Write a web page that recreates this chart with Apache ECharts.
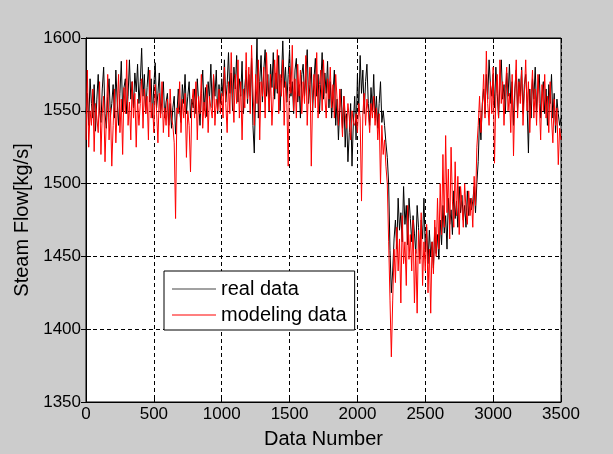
<!DOCTYPE html>
<html>
<head>
<meta charset="utf-8">
<script src="https://cdn.jsdelivr.net/npm/echarts@6/dist/echarts.min.js"></script>
<style>
html,body{margin:0;padding:0;background:#cccccc;}
#chart{width:613px;height:454px;}
</style>
</head>
<body>
<div id="chart"></div>
<script>
// Data Number step between consecutive samples
var sampleStep = 10;
var xTicks = [0, 500, 1000, 1500, 2000, 2500, 3000, 3500];
var yTicks = [1350, 1400, 1450, 1500, 1550, 1600];
var seriesNames = ['real data', 'modeling data'];

var realData = [
1548,1562,1540,1572,1555,1545,1568,1536,1558,1575,1550,1542,1565,1580,1548,1538,1560,1572,1546,1555,
1568,1545,1578,1556,1540,1562,1584,1550,1566,1572,1548,1560,1585,1558,1570,1552,1576,1563,1582,1555,
1570,1593,1560,1575,1548,1566,1580,1556,1572,1545,1568,1583,1552,1562,1576,1548,1558,1570,1545,1556,
1562,1540,1555,1538,1552,1560,1534,1548,1565,1550,1542,1568,1555,1575,1548,1560,1570,1545,1558,1552,
1565,1548,1572,1556,1540,1562,1578,1550,1566,1546,1570,1558,1582,1552,1574,1560,1578,1548,1568,1555,
1572,1560,1585,1556,1568,1590,1562,1576,1550,1580,1565,1588,1556,1572,1560,1584,1548,1566,1578,1555,
1575,1560,1586,1540,1521,1565,1600,1545,1570,1588,1556,1578,1592,1560,1575,1550,1582,1566,1590,1558,
1576,1562,1588,1550,1572,1598,1566,1580,1556,1575,1592,1560,1570,1548,1578,1586,1556,1568,1545,1575,
1582,1560,1574,1592,1555,1568,1580,1550,1572,1586,1560,1575,1548,1568,1590,1558,1576,1562,1584,1552,
1570,1545,1562,1578,1540,1558,1530,1552,1565,1538,1560,1525,1548,1515,1535,1555,1512,1542,1560,1530,
1575,1550,1588,1562,1578,1548,1570,1582,1555,1540,1566,1550,1575,1545,1560,1538,1555,1570,1542,1550,
1540,1528,1518,1500,1454,1425,1440,1462,1475,1455,1490,1468,1480,1460,1498,1472,1485,1458,1490,1476,
1460,1478,1466,1452,1485,1470,1448,1475,1462,1490,1455,1470,1445,1468,1450,1460,1442,1470,1452,1465,
1448,1475,1458,1485,1466,1478,1455,1490,1472,1482,1465,1495,1476,1488,1470,1498,1480,1492,1475,1485,
1470,1495,1478,1490,1482,1488,1498,1480,1500,1515,1545,1530,1555,1565,1548,1575,1558,1585,1568,1560,
1575,1552,1580,1562,1545,1570,1585,1558,1568,1548,1576,1560,1582,1555,1570,1540,1565,1578,1550,1572,
1560,1580,1548,1568,1575,1555,1521,1565,1545,1572,1558,1580,1550,1566,1575,1545,1562,1570,1548,1565,
1540,1568,1555,1575,1545,1562,1535,1558,1548,1540,1545
];

var modelData = [
1530,1578,1525,1550,1540,1565,1522,1555,1545,1535,1570,1520,1548,1560,1515,1545,1575,1530,1552,1512,
1540,1565,1528,1552,1575,1535,1558,1520,1566,1548,1585,1540,1556,1530,1570,1545,1562,1525,1558,1540,
1555,1572,1538,1565,1548,1560,1530,1578,1545,1555,1535,1568,1550,1528,1562,1545,1570,1535,1552,1540,
1558,1532,1565,1545,1540,1528,1476,1552,1548,1570,1535,1558,1545,1562,1518,1550,1540,1508,1555,1565,
1545,1570,1530,1560,1548,1575,1538,1556,1545,1568,1535,1560,1552,1545,1575,1540,1558,1550,1565,1548,
1562,1545,1580,1555,1535,1570,1548,1590,1560,1542,1575,1555,1585,1545,1570,1530,1565,1552,1590,1558,
1580,1548,1595,1565,1540,1575,1555,1585,1530,1570,1560,1580,1545,1590,1565,1550,1575,1540,1560,1585,
1565,1592,1548,1575,1560,1585,1540,1570,1555,1512,1580,1562,1595,1550,1572,1545,1582,1560,1578,1548,
1570,1555,1588,1540,1566,1580,1512,1560,1575,1552,1590,1545,1568,1578,1550,1585,1560,1545,1572,1558,
1580,1552,1568,1545,1575,1558,1540,1565,1550,1532,1560,1548,1538,1555,1545,1530,1550,1542,1540,1548,
1535,1555,1545,1488,1548,1562,1540,1558,1550,1535,1555,1545,1560,1540,1552,1530,1548,1500,1540,1520,
1530,1512,1500,1460,1420,1381,1420,1455,1432,1470,1440,1462,1418,1478,1445,1460,1430,1485,1448,1465,
1440,1475,1418,1455,1411,1468,1445,1480,1430,1460,1440,1472,1425,1455,1411,1460,1438,1475,1450,1490,
1455,1500,1465,1520,1470,1533,1480,1510,1462,1525,1488,1470,1515,1478,1505,1465,1498,1485,1470,1500,
1482,1472,1495,1478,1490,1470,1505,1485,1525,1540,1560,1535,1552,1575,1545,1591,1555,1540,1570,1548,
1580,1514,1560,1575,1545,1585,1555,1570,1540,1565,1580,1550,1562,1535,1575,1519,1560,1585,1545,1570,
1555,1578,1540,1562,1585,1550,1570,1535,1560,1578,1545,1565,1540,1575,1555,1530,1568,1550,1575,1545,
1560,1535,1570,1545,1528,1558,1540,1552,1513,1538,1530
];

function pairs(arr){ return arr.map(function(v,i){ return [i*sampleStep, v]; }); }
function plain(v){ return String(v); }

var font = 'Liberation Sans, Arial, sans-serif';
var xMin = xTicks[0], xMax = xTicks[xTicks.length-1], xInt = xTicks[1]-xTicks[0];
var yMin = yTicks[0], yMax = yTicks[yTicks.length-1], yInt = yTicks[1]-yTicks[0];

var chart = echarts.init(document.getElementById('chart'), null, {renderer:'canvas'});
chart.setOption({
  animation:false,
  backgroundColor:'#cccccc',
  grid:{left:86,right:52,top:38,bottom:52,show:true,backgroundColor:'#ffffff',borderColor:'#000',borderWidth:1,containLabel:false},
  legend:{
    show:true, orient:'vertical', left:164, top:271,
    backgroundColor:'#ffffff', borderColor:'#000', borderWidth:1,
    padding:[8,8,5,8], itemGap:6, itemWidth:44, itemHeight:20,
    icon:'path://M0,9.5 L44,9.5 L44,10.5 L0,10.5 Z',
    textStyle:{fontFamily:font,fontSize:20,color:'#000'},
    data:[{name:seriesNames[0],itemStyle:{color:'#444'}},{name:seriesNames[1],itemStyle:{color:'#ff0000'}}]
  },
  xAxis:[{
    type:'value', min:xMin, max:xMax, interval:xInt,
    name:'Data Number', nameLocation:'middle', nameGap:27,
    nameTextStyle:{fontFamily:font,fontSize:20,color:'#000'},
    axisLine:{show:true,lineStyle:{color:'#000',width:1}},
    axisTick:{show:true,inside:true,length:5,lineStyle:{color:'#000'}},
    axisLabel:{fontFamily:font,fontSize:17,color:'#000',margin:4,formatter:plain},
    splitLine:{show:true,lineStyle:{color:'#000',type:[4,3],width:1}}
  },{
    type:'value', min:xMin, max:xMax, interval:xInt, position:'top',
    axisLine:{show:true,lineStyle:{color:'#000'}},
    axisTick:{show:true,inside:true,length:5,lineStyle:{color:'#000'}},
    axisLabel:{show:false}, splitLine:{show:false}
  }],
  yAxis:[{
    type:'value', min:yMin, max:yMax, interval:yInt,
    name:'Steam Flow[kg/s]', nameLocation:'middle', nameGap:43,
    nameTextStyle:{fontFamily:font,fontSize:20,color:'#000'},
    axisLine:{show:true,lineStyle:{color:'#000',width:1}},
    axisTick:{show:true,inside:true,length:5,lineStyle:{color:'#000'}},
    axisLabel:{fontFamily:font,fontSize:17,color:'#000',margin:5,formatter:plain},
    splitLine:{show:true,lineStyle:{color:'#000',type:[4,3],width:1}}
  },{
    type:'value', min:yMin, max:yMax, interval:yInt, position:'right',
    axisLine:{show:true,lineStyle:{color:'#000'}},
    axisTick:{show:true,inside:true,length:5,lineStyle:{color:'#000'}},
    axisLabel:{show:false}, splitLine:{show:false}
  }],
  series:[{
    name:seriesNames[0], type:'line', data:pairs(realData), showSymbol:false, symbol:'none',
    lineStyle:{color:'#000',width:1}, itemStyle:{color:'#000'}, z:2
  },{
    name:seriesNames[1], type:'line', data:pairs(modelData), showSymbol:false, symbol:'none',
    lineStyle:{color:'#ff0000',width:1}, itemStyle:{color:'#ff0000'}, z:3
  }]
});
</script>
</body>
</html>
